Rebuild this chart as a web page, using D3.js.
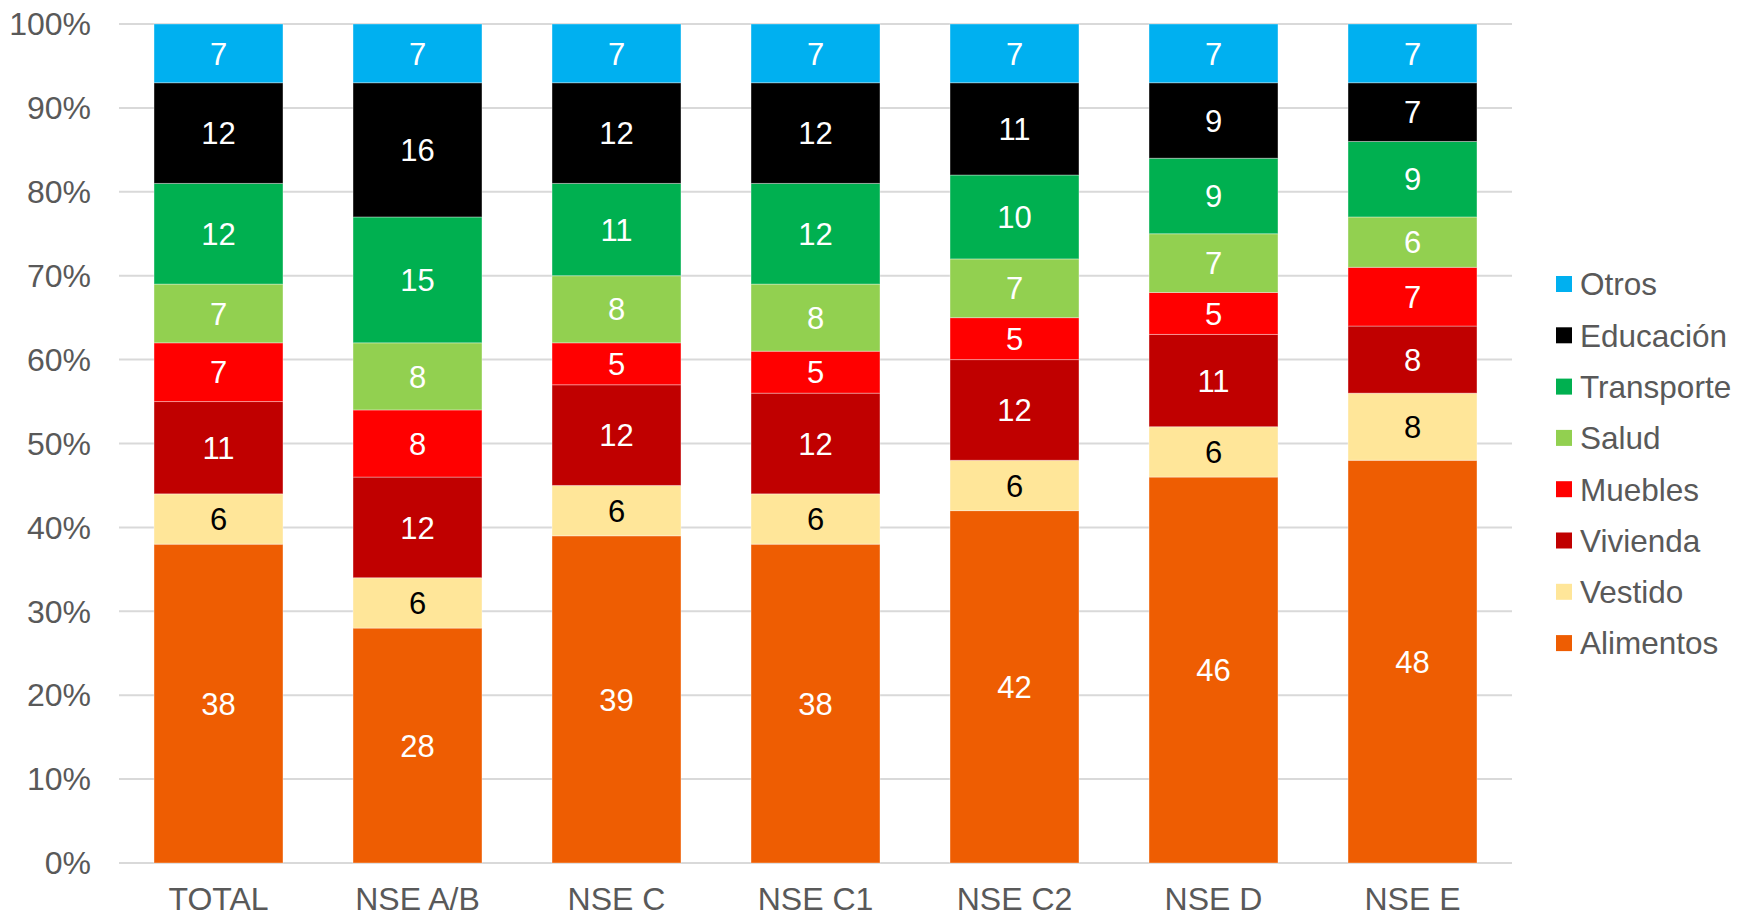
<!DOCTYPE html>
<html>
<head>
<meta charset="utf-8">
<script src="https://cdn.jsdelivr.net/npm/d3@7"></script>
<style>
  body { margin: 0; background: #fff; }
  svg { display: block; font-family: "Liberation Sans", Arial, sans-serif; }
</style>
</head>
<body>
<svg width="1738" height="916"></svg>
<script>
// categories (x axis)
const groups = ["TOTAL", "NSE A/B", "NSE C", "NSE C1", "NSE C2", "NSE D", "NSE E"];
// series, bottom to top
const seriesNames = ["Alimentos", "Vestido", "Vivienda", "Muebles", "Salud", "Transporte", "Educación", "Otros"];
const alimentos  = [38, 28, 39, 38, 42, 46, 48];
const vestido    = [6, 6, 6, 6, 6, 6, 8];
const vivienda   = [11, 12, 12, 12, 12, 11, 8];
const muebles    = [7, 8, 5, 5, 5, 5, 7];
const salud      = [7, 8, 8, 8, 7, 7, 6];
const transporte = [12, 15, 11, 12, 10, 9, 9];
const educacion  = [12, 16, 12, 12, 11, 9, 7];
const otros      = [7, 7, 7, 7, 7, 7, 7];
const yTicks = [0, 10, 20, 30, 40, 50, 60, 70, 80, 90, 100];

const colors = ["#EE5D02", "#FFE699", "#C00000", "#FF0000", "#92D050", "#00B050", "#000000", "#00B0F0"];
const labelColors = ["#fff", "#000", "#fff", "#fff", "#fff", "#fff", "#fff", "#fff"];

const seriesValues = [alimentos, vestido, vivienda, muebles, salud, transporte, educacion, otros];
const table = groups.map((g, i) => {
    const row = { group: g };
    seriesNames.forEach((s, k) => { row[s] = seriesValues[k][i]; });
    return row;
});
const stacked = d3.stack().keys(seriesNames)(table);

const svg = d3.select("svg");
const plotLeft = 119, plotRight = 1512, plotTop = 24, plotBottom = 863;

const x = d3.scaleBand().domain(groups).range([plotLeft, plotRight]).paddingInner(0.352).paddingOuter(0.176);
const y = d3.scaleLinear().domain([0, 100]).range([plotBottom, plotTop]);

// gridlines
svg.append("g")
    .selectAll("line")
    .data(yTicks)
    .enter().append("line")
    .attr("x1", plotLeft)
    .attr("x2", plotRight)
    .attr("y1", d => y(d))
    .attr("y2", d => y(d))
    .attr("stroke", "#D9D9D9")
    .attr("stroke-width", 2);

// y tick labels
svg.append("g")
    .selectAll("text")
    .data(yTicks)
    .enter().append("text")
    .attr("x", 91)
    .attr("y", d => y(d))
    .attr("dy", "0.35em")
    .attr("text-anchor", "end")
    .attr("fill", "#595959")
    .style("font-size", "32px")
    .text(d => d + "%");

// bars
const layer = svg.append("g")
    .selectAll("g")
    .data(stacked)
    .enter().append("g")
    .attr("fill", (d, i) => colors[i]);

layer.selectAll("rect")
    .data(d => d)
    .enter().append("rect")
    .attr("x", d => x(d.data.group))
    .attr("width", x.bandwidth())
    .attr("y", d => y(d[1]))
    .attr("height", d => y(d[0]) - y(d[1]))
    .attr("stroke", "rgba(255,255,255,0.35)")
    .attr("stroke-width", 1);

// data labels
stacked.forEach((s, k) => {
    svg.append("g")
        .selectAll("text")
        .data(s)
        .enter().append("text")
        .attr("x", d => x(d.data.group) + x.bandwidth() / 2)
        .attr("y", d => y((d[0] + d[1]) / 2))
        .attr("dy", "0.36em")
        .attr("text-anchor", "middle")
        .attr("fill", labelColors[k])
        .style("font-size", "31px")
        .text(d => d[1] - d[0]);
});

// x axis labels
svg.append("g")
    .selectAll("text")
    .data(groups)
    .enter().append("text")
    .attr("x", d => x(d) + x.bandwidth() / 2)
    .attr("y", 910)
    .attr("text-anchor", "middle")
    .attr("fill", "#595959")
    .style("font-size", "32px")
    .text(d => d);

// legend (top to bottom = Otros ... Alimentos)
const legendItems = seriesNames.map((s, i) => ({ name: s, color: colors[i] })).reverse();
const legend = svg.append("g")
    .selectAll("g")
    .data(legendItems)
    .enter().append("g")
    .attr("transform", (d, i) => `translate(1556, ${284 + i * 51.3})`);

legend.append("rect")
    .attr("x", 0)
    .attr("y", -8)
    .attr("width", 16)
    .attr("height", 16)
    .attr("fill", d => d.color);

legend.append("text")
    .attr("x", 24)
    .attr("y", 0)
    .attr("dy", "0.36em")
    .attr("fill", "#595959")
    .style("font-size", "31.5px")
    .text(d => d.name);
</script>
</body>
</html>
